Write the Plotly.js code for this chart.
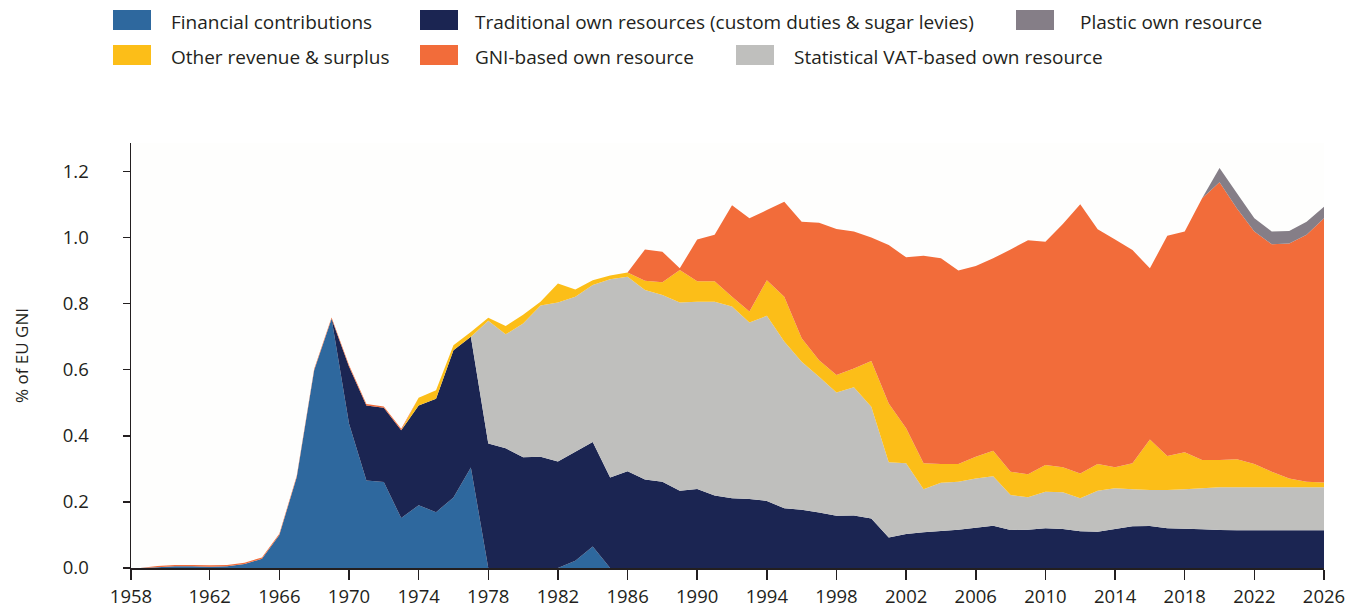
<!DOCTYPE html>
<html>
<head>
<meta charset="utf-8">
<script src="https://cdn.plot.ly/plotly-3.0.1.min.js"></script>
<style>
  html, body { margin: 0; padding: 0; background: #ffffff; }
  #chart { width: 1359px; height: 609px; }
</style>
</head>
<body>
<div id="chart"></div>
<script>
// ---------------- DATA ----------------
const years = [
  1958,1959,1960,1961,1962,1963,1964,1965,1966,1967,
  1968,1969,1970,1971,1972,1973,1974,1975,1976,1977,
  1978,1979,1980,1981,1982,1983,1984,1985,1986,1987,
  1988,1989,1990,1991,1992,1993,1994,1995,1996,1997,
  1998,1999,2000,2001,2002,2003,2004,2005,2006,2007,
  2008,2009,2010,2011,2012,2013,2014,2015,2016,2017,
  2018,2019,2020,2021,2022,2023,2024,2025,2026
];

const financialContributions = [
  0,0.002,0.005,0.005,0.004,0.005,0.012,0.028,0.100,0.275,
  0.598,0.754,0.437,0.265,0.260,0.151,0.190,0.169,0.213,0.304,
  0,0,0,0,0,0.022,0.065,0,0,0,
  0,0,0,0,0,0,0,0,0,0,
  0,0,0,0,0,0,0,0,0,0,
  0,0,0,0,0,0,0,0,0,0,
  0,0,0,0,0,0,0,0,0
];

const traditionalOwnResources = [
  0,0,0,0,0,0,0,0,0,0,
  0,0,0.173,0.227,0.225,0.266,0.302,0.343,0.446,0.396,
  0.377,0.362,0.335,0.337,0.322,0.330,0.316,0.274,0.293,0.268,
  0.261,0.234,0.239,0.219,0.211,0.209,0.203,0.181,0.176,0.168,
  0.158,0.159,0.150,0.092,0.103,0.108,0.112,0.116,0.122,0.128,
  0.115,0.116,0.120,0.118,0.111,0.110,0.118,0.126,0.127,0.120,
  0.119,0.117,0.115,0.114,0.114,0.114,0.114,0.114,0.114
];

const statisticalVat = [
  0,0,0,0,0,0,0,0,0,0,
  0,0,0,0,0,0,0,0,0,0,
  0.371,0.345,0.405,0.457,0.481,0.469,0.475,0.600,0.588,0.573,
  0.565,0.569,0.567,0.587,0.580,0.534,0.560,0.504,0.448,0.411,
  0.373,0.388,0.338,0.228,0.214,0.130,0.146,0.145,0.149,0.150,
  0.106,0.098,0.111,0.111,0.100,0.124,0.123,0.112,0.109,0.116,
  0.119,0.124,0.129,0.130,0.130,0.130,0.130,0.130,0.130
];

const otherRevenue = [
  0,0,0,0,0,0,0,0,0,0,
  0,0,0,0,0,0,0.023,0.026,0.015,0.014,
  0.009,0.025,0.026,0.012,0.058,0.022,0.015,0.011,0.013,0.028,
  0.039,0.099,0.062,0.062,0.030,0.033,0.108,0.136,0.071,0.050,
  0.053,0.057,0.138,0.178,0.106,0.079,0.057,0.054,0.066,0.077,
  0.070,0.070,0.081,0.076,0.075,0.081,0.064,0.079,0.153,0.103,
  0.112,0.086,0.083,0.085,0.071,0.047,0.027,0.017,0.015
];

const gniOwnResource = [
  0,0.004,0.004,0.004,0.004,0.004,0.004,0.004,0.004,0.004,
  0.004,0.004,0.004,0.004,0.004,0.004,0,0,0,0,
  0,0,0,0,0,0,0,0,0,0.095,
  0.092,0.005,0.126,0.140,0.277,0.282,0.212,0.287,0.353,0.416,
  0.442,0.414,0.374,0.479,0.517,0.628,0.622,0.585,0.577,0.582,
  0.673,0.708,0.675,0.736,0.815,0.710,0.689,0.645,0.518,0.666,
  0.668,0.792,0.840,0.759,0.703,0.689,0.711,0.747,0.799
];

const plasticOwnResource = [
  0,0,0,0,0,0,0,0,0,0,
  0,0,0,0,0,0,0,0,0,0,
  0,0,0,0,0,0,0,0,0,0,
  0,0,0,0,0,0,0,0,0,0,
  0,0,0,0,0,0,0,0,0,0,
  0,0,0,0,0,0,0,0,0,0,
  0,0,0.043,0.046,0.040,0.038,0.038,0.040,0.035
];

const seriesNames = [
  "Financial contributions",
  "Traditional own resources (custom duties & sugar levies)",
  "Statistical VAT-based own resource",
  "Other revenue & surplus",
  "GNI-based own resource",
  "Plastic own resource"
];

const xTickYears = [1958,1962,1966,1970,1974,1978,1982,1986,1990,1994,1998,2002,2006,2010,2014,2018,2022,2026];
const yTickValues = [0,0.2,0.4,0.6,0.8,1.0,1.2];

// ---------------- STYLE ----------------
const colors = {
  financial: "#2e689e",
  traditional: "#1b2552",
  vat: "#bfbfbd",
  other: "#fcbe18",
  gni: "#f26c3a",
  plastic: "#857e87"
};
const ink = "#231f20";
const FONT = "'Open Sans', 'Noto Sans', sans-serif";

const seriesValues = [financialContributions, traditionalOwnResources, statisticalVat, otherRevenue, gniOwnResource, plasticOwnResource];
const seriesColors = [colors.financial, colors.traditional, colors.vat, colors.other, colors.gni, colors.plastic];

const traces = seriesValues.map((vals, i) => ({
  type: "scatter",
  x: years,
  y: vals,
  name: seriesNames[i],
  stackgroup: "one",
  mode: "none",
  line: { width: 0, shape: "linear" },
  fillcolor: seriesColors[i],
  hoverinfo: "x+y+name"
}));

// plot area geometry (px)
const W = 1359, H = 609;
const M = { l: 131, r: 35, t: 143, b: 41 };
const PW = W - M.l - M.r, PH = H - M.t - M.b;
const X = px => (px - M.l) / PW;
const Y = py => (H - M.b - py) / PH;

// first tick sits at the very start of the axis, as in the reference
const xStart = 1957.48;
const xTickVals = xTickYears.map((y, i) => i === 0 ? xStart : y);
const xTickText = xTickYears.map(String);

// custom legend (flow layout as in the reference)
const legendItems = [
  { s: 0, sw: [113, 151], tx: 169, row: 0 },
  { s: 1, sw: [420, 458], tx: 473, row: 0 },
  { s: 5, sw: [1016, 1054], tx: 1078, row: 0 },
  { s: 3, sw: [113, 151], tx: 169, row: 1 },
  { s: 4, sw: [420, 458], tx: 473, row: 1 },
  { s: 2, sw: [736, 774], tx: 792, row: 1 }
];
const rowSwatchY = [[10, 30], [45, 65]];
const rowTextY = [22, 57];

const shapes = legendItems.map(it => ({
  type: "rect", xref: "paper", yref: "paper",
  x0: X(it.sw[0]), x1: X(it.sw[1]),
  y0: Y(rowSwatchY[it.row][1]), y1: Y(rowSwatchY[it.row][0]),
  fillcolor: seriesColors[it.s], line: { width: 0 }
}));
const annotations = legendItems.map(it => ({
  xref: "paper", yref: "paper",
  x: X(it.tx), y: Y(rowTextY[it.row]),
  xanchor: "left", yanchor: "middle",
  text: seriesNames[it.s], showarrow: false,
  font: { family: FONT, size: 19, color: ink }
}));

const layout = {
  width: W, height: H,
  margin: M,
  paper_bgcolor: "#ffffff",
  plot_bgcolor: "#fefefd",
  showlegend: false,
  font: { family: FONT, color: ink },
  xaxis: {
    range: [xStart, 2026],
    tickmode: "array",
    tickvals: xTickVals,
    ticktext: xTickText,
    showgrid: false, zeroline: false,
    showline: true, linecolor: ink, linewidth: 1.5,
    ticks: "outside", ticklen: 10, tickwidth: 1.5, tickcolor: ink,
    tickfont: { family: FONT, size: 18.5, color: ink },
    ticklabelstandoff: 1,
    fixedrange: true
  },
  yaxis: {
    range: [0, 1.286],
    tickmode: "array",
    tickvals: yTickValues,
    ticktext: yTickValues.map(v => v.toFixed(1)),
    showgrid: false, zeroline: false,
    showline: true, linecolor: ink, linewidth: 1.5,
    ticks: "outside", ticklen: 7, tickwidth: 1.5, tickcolor: ink,
    tickfont: { family: FONT, size: 18.5, color: ink },
    ticklabelstandoff: 30,
    title: { text: "% of EU GNI", font: { family: FONT, size: 17, color: ink }, standoff: 30 },
    fixedrange: true
  },
  shapes: shapes,
  annotations: annotations
};

Plotly.newPlot("chart", traces, layout, { displayModeBar: false, staticPlot: true });
</script>
</body>
</html>
